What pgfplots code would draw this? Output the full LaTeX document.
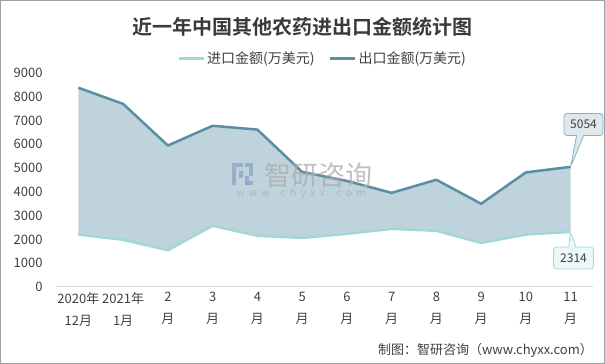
\documentclass[border=0pt]{standalone}
\usepackage{pgfplots}
\pgfplotsset{compat=1.18}
\usepgfplotslibrary{fillbetween}
\usetikzlibrary{shapes.callouts}
\usepackage{fontspec}
\setmainfont{Noto Sans CJK SC}
\newfontfamily\titlefont{Noto Sans CJK SC}[BoldFont=* Bold]
\definecolor{expc}{HTML}{5A8EA3}
\definecolor{impc}{HTML}{9FD9D5}
\definecolor{fillc}{HTML}{BED3DC}
\definecolor{txt}{HTML}{404040}
\definecolor{axc}{HTML}{D9D9D9}
\definecolor{logoc}{HTML}{8EA6C6}
\pgfplotstableread{
x imp exp
0 2200 8380
1 1980 7700
2 1540 5950
3 2570 6780
4 2150 6620
5 2060 4840
6 2230 4460
7 2440 3960
8 2360 4510
9 1850 3500
10 2200 4820
11 2314 5054
}\datatab
\begin{document}
\begin{tikzpicture}
\draw[gray!75, line width=1pt] (0.5pt,0.5pt) rectangle (604.5pt,363.5pt);
\node[font=\titlefont\bfseries\fontsize{20}{24}\selectfont, text=txt!90!black] at (302pt,337pt) {近一年中国其他农药进出口金额统计图};
\begin{axis}[
  at={(56pt,77pt)}, anchor=south west,
  scale only axis, width=537pt, height=214pt,
  set layers,
  xmin=-0.5, xmax=11.5, ymin=0, ymax=9000,
  axis x line*=bottom, axis y line*=left,
  x axis line style={-, draw=axc, line width=1pt},
  y axis line style={draw=none},
  major tick length=0pt,
  xtick={0,...,11},
  xticklabels={{2020年\\12月},{2021年\\1月},{2\\月},{3\\月},{4\\月},{5\\月},{6\\月},{7\\月},{8\\月},{9\\月},{10\\月},{11\\月}},
  xticklabel style={align=center, font=\fontsize{13}{22}\selectfont, text=txt, yshift=-2pt},
  ytick={0,1000,...,9000},
  yticklabel style={font=\fontsize{13}{15}\selectfont, text=txt, xshift=-10pt},
  /pgf/number format/assume math mode=true,
  /pgf/number format/1000 sep={},
  scaled y ticks=false,
  legend style={at={(0.5,1)}, anchor=south, yshift=4pt, xshift=-2pt, draw=none, fill=none,
    font=\fontsize{14}{16}\selectfont, text=txt, legend columns=2,
    /tikz/every even column/.append style={column sep=12pt}},
  legend image code/.code={\draw[#1, line width=3pt] (0pt,0pt) -- (25pt,0pt);},
]
\addplot[name path=imp, color=impc, line width=2.3pt, line join=round] table[x=x, y=imp] {\datatab};
\addlegendentry{进口金额(万美元)}
\addplot[name path=exp, color=expc, line width=2.5pt, line join=round] table[x=x, y=exp] {\datatab};
\addlegendentry{出口金额(万美元)}
\addplot[fill=fillc, draw=none, forget plot] fill between[of=exp and imp];
\coordinate (pe) at (axis cs:11,5054);
\coordinate (pi) at (axis cs:11,2314);
\end{axis}
\node[text=gray!65, opacity=0.75, font=\fontsize{27}{30}\selectfont] at (318pt,189pt) {智研咨询};
\node[text=gray!65, opacity=0.75, font=\fontsize{10}{12}\selectfont\addfontfeatures{LetterSpace=45}] at (301pt,170pt) {www.chyxx.com};
\begin{scope}[opacity=0.8]
\fill[logoc] (232pt,201pt) rectangle (243pt,197pt);
\fill[logoc] (232pt,197pt) rectangle (236pt,179pt);
\fill[logoc] (239pt,193pt) rectangle (243pt,186pt);
\fill[logoc] (245pt,201pt) rectangle (253pt,197pt);
\fill[logoc] (249pt,197pt) rectangle (253pt,188pt);
\fill[logoc] (245pt,188pt) rectangle (249pt,179pt);
\fill[logoc] (245pt,183pt) rectangle (253pt,179pt);
\end{scope}
\node[rectangle callout, callout absolute pointer={(pe)}, rounded corners=3pt,
  fill=expc!20, draw=expc!70, line width=0.8pt, text=txt, font=\fontsize{12}{14}\selectfont,
  minimum width=39pt, minimum height=22pt, inner sep=2pt] at (583.5pt,239.5pt) {5054};
\node[rectangle callout, callout absolute pointer={(pi)}, rounded corners=3pt,
  fill=impc!20, draw=impc, line width=0.8pt, text=txt, font=\fontsize{12}{14}\selectfont,
  minimum width=40pt, minimum height=22pt, inner sep=2pt] at (573.5pt,106pt) {2314};
\node[anchor=east, text=txt, font=\fontsize{13}{15}\selectfont, inner sep=0pt] at (593pt,14pt) {制图：智研咨询（www.chyxx.com）};
\end{tikzpicture}
\end{document}
